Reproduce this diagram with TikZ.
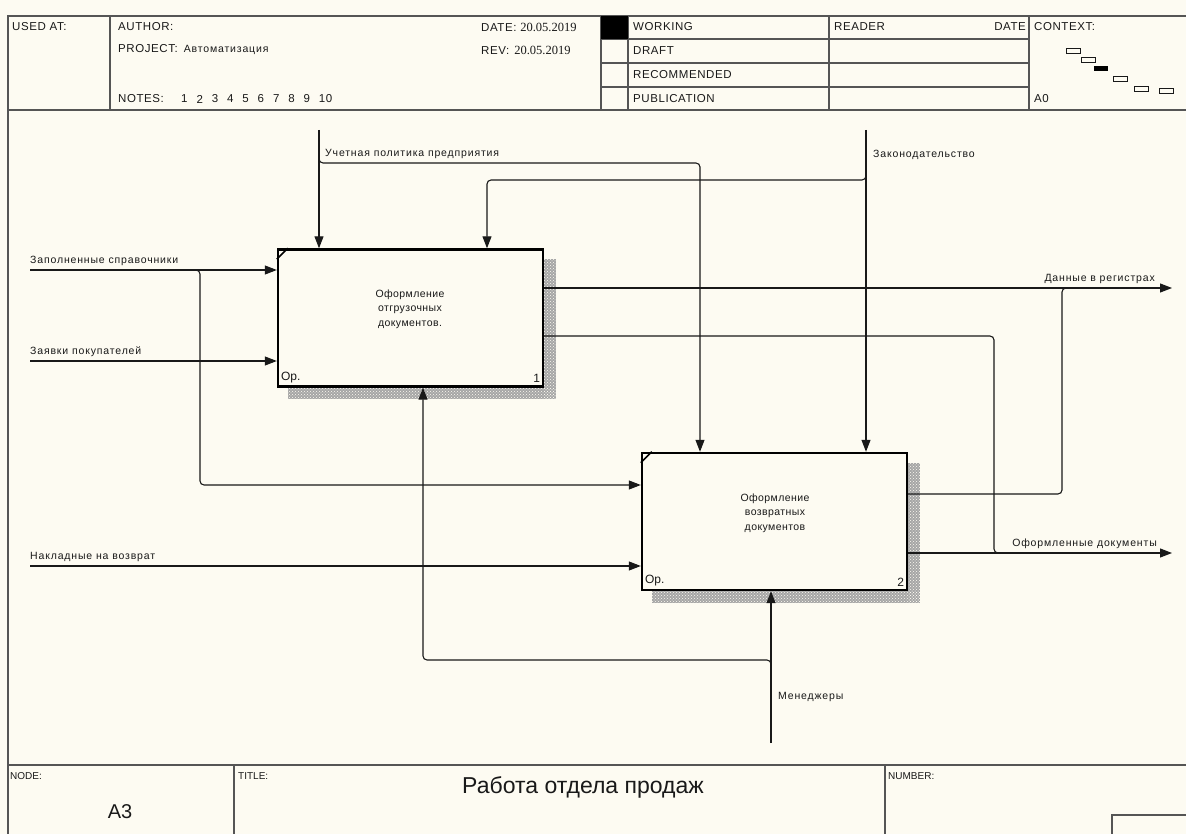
\documentclass[tikz,border=0pt]{standalone}
\usepackage{fontspec}
\setmainfont{Liberation Sans}
\newfontfamily\lblfont[LetterSpace=8]{Liberation Sans}
\newfontfamily\boxfont[LetterSpace=4]{Liberation Sans}
\newfontfamily\hdrfont[LetterSpace=5]{Liberation Sans}
\newfontfamily\datefont{Liberation Serif}
\usetikzlibrary{arrows.meta,patterns}

\definecolor{paper}{RGB}{253,251,242}
\definecolor{frameln}{RGB}{85,85,85}
\definecolor{ink}{RGB}{25,25,25}

\begin{document}
\begin{tikzpicture}[x=1pt,y=-1pt,
  frame/.style={draw=frameln, line width=1.1pt},
  hdr/.style={font=\fontsize{11.5}{13}\hdrfont, text=ink, inner sep=0pt, anchor=west},
  small/.style={font=\fontsize{10}{12}\selectfont, text=ink, inner sep=0pt, anchor=west},
  lbl/.style={font=\fontsize{10.5}{12}\lblfont, text=ink, inner sep=0pt},
  boxtxt/.style={font=\fontsize{10.5}{14.5}\boxfont, text=ink, inner sep=0pt, align=center},
  corner/.style={font=\fontsize{12}{14}\selectfont, text=ink, inner sep=0pt},
  func/.style={draw=black, line width=2.4pt, fill=paper, minimum width=265pt, minimum height=137pt, inner sep=0pt},
  flow/.style={draw=ink, line width=1.1pt, rounded corners=4pt},
  arr/.style={flow, -{Triangle[length=12pt,width=9pt]}},
  shade/.style={fill=black!35},
  minibox/.style={draw=ink, line width=0.8pt, fill=paper},
]
% sheet
\fill[paper] (0,0) rectangle (1186,834);
\useasboundingbox (0,0) rectangle (1186,834);

% header frame
\draw[frame] (8,834) -- (8,16) -- (1186,16);
\draw[frame] (8,110) -- (1186,110);
\draw[frame] (110,16) -- (110,110);
\draw[frame] (601,16) -- (601,110);
\draw[frame] (628,16) -- (628,110);
\draw[frame] (829,16) -- (829,110);
\draw[frame] (1029,16) -- (1029,110);
\foreach \yy in {39,63,87} \draw[frame] (601,\yy) -- (1029,\yy);
\fill[black] (601,16) rectangle (628,39);

% header texts
\node[hdr] (usedat) at (12,27) {USED AT:};
\node[hdr] (author) at (118,27) {AUTHOR:};
\node[hdr] (project) at (118,50) {PROJECT:\hspace{6pt}\fontsize{10.5}{12}\lblfont Автоматизация};
\node[hdr] (notes) at (118,99) {NOTES:};
\foreach \n [count=\i] in {1,...,10}
  \node[hdr] (note\i) at ({181+(\i-1)*15.3},99) {\n};
\node[hdr] (date) at (481,27) {DATE: {\datefont\fontsize{12.5}{14}\selectfont 20.05.2019}};
\node[hdr] (rev) at (481,50) {REV:\hspace{5pt}{\datefont\fontsize{12.5}{14}\selectfont 20.05.2019}};
\node[hdr] (working) at (633,27) {WORKING};
\node[hdr] (draft) at (633,51) {DRAFT};
\node[hdr] (recom) at (633,75) {RECOMMENDED};
\node[hdr] (public) at (633,99) {PUBLICATION};
\node[hdr] (reader) at (834,27) {READER};
\node[hdr, anchor=east] (rdate) at (1026,27) {DATE};
\node[hdr] (context) at (1034,27) {CONTEXT:};
\node[hdr] (azero) at (1034,99) {A0};

% context thumbnail
\draw[minibox] (1066,48) rectangle (1080,53);
\draw[minibox] (1081,57) rectangle (1095,62);
\fill[black] (1094,66) rectangle (1108,71);
\draw[minibox] (1113,76) rectangle (1127,81);
\draw[minibox] (1134,86) rectangle (1148,91);
\draw[minibox] (1159,88) rectangle (1173,93);

% title block
\draw[frame] (8,765) -- (1186,765);
\draw[frame] (234,765) -- (234,834);
\draw[frame] (885,765) -- (885,834);
\draw[frame] (1186,815) -- (1112,815) -- (1112,834);
\node[small] (nodel) at (10,776) {NODE:};
\node[font=\fontsize{20}{22}\selectfont, text=ink, inner sep=0pt] (nodeno) at (120,812) {A3};
\node[small] (titlel) at (238,776) {TITLE:};
\node[font=\fontsize{23}{26}\selectfont, text=ink, inner sep=0pt] (title) at (583,787) {Работа отдела продаж};
\node[small] (numberl) at (888,776) {NUMBER:};

% shadows of the activity boxes
\fill[shade] (544,259) rectangle (556,399);
\fill[shade] (288,388) rectangle (556,399);
\fill[pattern=crosshatch dots, pattern color=paper] (544,259) rectangle (556,399);
\fill[pattern=crosshatch dots, pattern color=paper] (288,388) rectangle (556,399);
\fill[shade] (908,463) rectangle (920,603);
\fill[shade] (652,591) rectangle (920,603);
\fill[pattern=crosshatch dots, pattern color=paper] (908,463) rectangle (920,603);
\fill[pattern=crosshatch dots, pattern color=paper] (652,591) rectangle (920,603);

% activity boxes
\node[func] (b1) at (410.5,318) {};
\node[func] (b2) at (774.5,521.5) {};
\node[boxtxt] (b1t) at (410,309) {Оформление\\отгрузочных\\документов.};
\node[boxtxt] (b2t) at (775,513) {Оформление\\возвратных\\документов};
\node[corner, anchor=south west] (b1op) at ([shift={(4pt,5pt)}]b1.south west) {Ор.};
\node[corner, anchor=south east] (b1no) at ([shift={(-4pt,5pt)}]b1.south east) {1};
\node[corner, anchor=south west] (b2op) at ([shift={(4pt,5pt)}]b2.south west) {Ор.};
\node[corner, anchor=south east] (b2no) at ([shift={(-4pt,5pt)}]b2.south east) {2};
\draw[line width=1.6pt] ([yshift=-11pt]b1.north west) -- ([xshift=11pt]b1.north west);
\draw[line width=1.6pt] ([yshift=-11pt]b2.north west) -- ([xshift=11pt]b2.north west);

% inputs
\coordinate (in1) at (30,270);
\coordinate (in2) at (30,361);
\coordinate (in3) at (30,566);
\draw[arr] (in1) -- (in1 -| b1.west);
\draw[arr] (in2) -- (in2 -| b1.west);
\draw[arr] (in3) -- (in3 -| b2.west);
\coordinate (s1) at (192,270);
\coordinate (s1d) at (200,485);
\draw[arr] (s1) -| (s1d) -- (s1d -| b2.west);
\node[lbl, anchor=south west] (lin1) at (30,266) {Заполненные справочники};
\node[lbl, anchor=south west] (lin2) at (30,357) {Заявки покупателей};
\node[lbl, anchor=south west] (lin3) at (30,562) {Накладные на возврат};

% controls
\coordinate (c1) at (319,130);
\draw[arr] (c1) -- (c1 |- b1.north);
\coordinate (c1s) at (319,152);
\coordinate (c1r) at (700,163);
\draw[arr] (c1s) |- (c1r) -- (c1r |- b2.north);
\coordinate (c2) at (866,130);
\draw[arr] (c2) -- (c2 |- b2.north);
\coordinate (c2s) at (866,170);
\coordinate (c2l) at (487,180);
\draw[arr] (c2s) |- (c2l) -- (c2l |- b1.north);
\node[lbl, anchor=south west] (lc1) at (325,159) {Учетная политика предприятия};
\node[lbl, anchor=west] (lc2) at (873,155) {Законодательство};

% mechanism
\coordinate (m1) at (771,743);
\draw[arr] (m1) -- (m1 |- b2.south);
\coordinate (m1s) at (771,670);
\coordinate (m1l) at (423,660);
\draw[arr] (m1s) |- (m1l) -- (m1l |- b1.south);
\node[lbl, anchor=west] (lm1) at (778,697) {Менеджеры};

% outputs
\coordinate (o1) at (1172,288);
\coordinate (o2) at (1172,553);
\draw[arr] (o1 -| b1.east) -- (o1);
\draw[arr] (o2 -| b2.east) -- (o2);
\coordinate (r1) at (0,336);
\coordinate (r1d) at (994,553);
\draw[flow] (r1 -| b1.east) -| (r1d) -- ++(8,0);
\coordinate (r2) at (0,494);
\coordinate (r2u) at (1062,288);
\draw[flow] (r2 -| b2.east) -| (r2u) -- ++(8,0);
\node[lbl, anchor=south east] (lo1) at (1155,284) {Данные в регистрах};
\node[lbl, anchor=south east] (lo2) at (1157,549) {Оформленные документы};
\end{tikzpicture}
\end{document}
